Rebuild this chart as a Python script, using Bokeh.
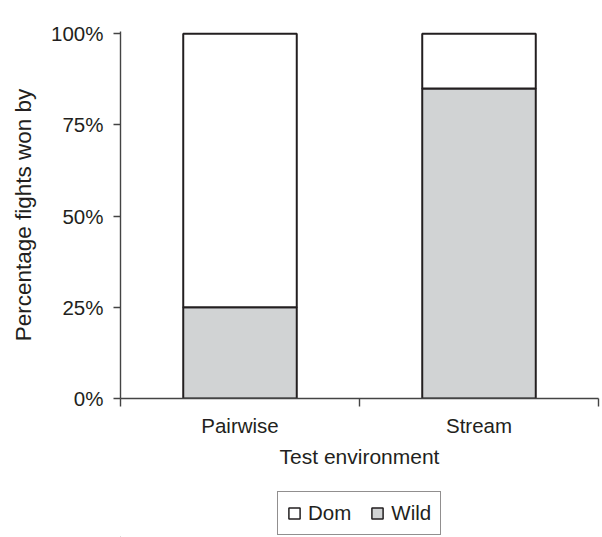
from bokeh.plotting import figure
from bokeh.models import (FactorRange, Range1d, FixedTicker, Legend, LegendItem, Div,
                          PrintfTickFormatter, ColumnDataSource, LinearAxis)
from bokeh.layouts import column
from bokeh.embed import file_html
from bokeh.resources import INLINE

categories = ["Pairwise", "Stream"]
wild = [25, 85]
dom = [75, 15]
y_ticks = [0, 25, 50, 75, 100]

FONT = "Liberation Sans"
TXT = "#231f20"
GREY = "#d1d3d4"
AX = "#444444"

# ---- rule across the top of the page
top = Div(text='<div style="width:587px;height:0;border-top:1.6px solid #231f20;'
               'margin-left:11px;margin-top:6px"></div>',
          width=598, height=10, margin=0)

# ---- main chart
p = figure(x_range=FactorRange(*categories), y_range=Range1d(0, 100.6),
           width=600, height=465, output_backend="svg", toolbar_location=None,
           min_border_left=120, min_border_right=2, min_border_top=21, min_border_bottom=77,
           outline_line_color=None)

source = ColumnDataSource(dict(cat=categories, wild=wild, dom=dom))
rs = p.vbar_stack(["wild", "dom"], x="cat", width=0.475, source=source,
                  fill_color=[GREY, "white"], line_color=TXT, line_width=2)

p.xgrid.visible = False
p.ygrid.visible = False

p.yaxis.ticker = FixedTicker(ticks=y_ticks)
p.yaxis.formatter = PrintfTickFormatter(format="%d%%")
p.yaxis.axis_label = "Percentage fights won by"
p.xaxis.axis_label = "Test environment"

for ax in (p.xaxis, p.yaxis):
    ax.axis_line_color = AX
    ax.axis_line_width = 1.4
    ax.major_tick_line_color = AX
    ax.major_tick_line_width = 1.4
    ax.major_tick_in = 0
    ax.major_tick_out = 7
    ax.minor_tick_line_color = None
    ax.major_label_text_font = FONT
    ax.major_label_text_font_size = "20.5px"
    ax.major_label_text_color = TXT
    ax.axis_label_text_font = FONT
    ax.axis_label_text_font_size = "21px"
    ax.axis_label_text_font_style = "normal"
    ax.axis_label_text_color = TXT

p.yaxis.axis_label_text_font_size = "22.5px"

cat_axis = p.xaxis[0]
cat_axis.axis_line_color = None
cat_axis.major_tick_line_color = None
cat_axis.major_tick_out = 0
cat_axis.major_label_standoff = 7
cat_axis.axis_label_standoff = 5
p.yaxis.major_label_standoff = 10
p.yaxis.axis_label_standoff = 12

# axis line with separator ticks at the category boundaries (synthetic coords 0, 1, 2)
sep_axis = LinearAxis(ticker=FixedTicker(ticks=list(range(len(categories) + 1))),
                      axis_line_color=AX, axis_line_width=1.4,
                      major_tick_line_color=AX, major_tick_line_width=1.4,
                      major_tick_in=0, major_tick_out=8, minor_tick_line_color=None,
                      major_label_overrides={i: "" for i in range(len(categories) + 1)},
                      major_label_standoff=0)
p.below = [sep_axis, cat_axis]

# ---- legend strip below the chart (swatch glyphs kept outside the visible range)
leg = figure(width=600, height=62, x_range=Range1d(0, 1), y_range=Range1d(0, 1),
             output_backend="svg", toolbar_location=None, x_axis_type=None, y_axis_type=None,
             min_border=0, outline_line_color=None)
leg_dom = leg.vbar(x=[-1], top=[-1], width=0.5, fill_color="white", line_color=TXT, line_width=1.5)
leg_wild = leg.vbar(x=[-1], top=[-1], width=0.5, fill_color=GREY, line_color=TXT, line_width=1.5)

legend = Legend(items=[LegendItem(label="Dom", renderers=[leg_dom]),
                       LegendItem(label="Wild", renderers=[leg_wild])],
                orientation="horizontal", location=(157, 2),
                glyph_width=14, glyph_height=14, label_standoff=7, spacing=19,
                padding=9, margin=0, border_line_color=TXT, border_line_width=1.2,
                label_text_font=FONT, label_text_font_size="20.5px", label_text_color=TXT)
leg.add_layout(legend)

layout = column(top, p, leg, spacing=0)
open("out.html", "w").write(file_html(layout, INLINE))
